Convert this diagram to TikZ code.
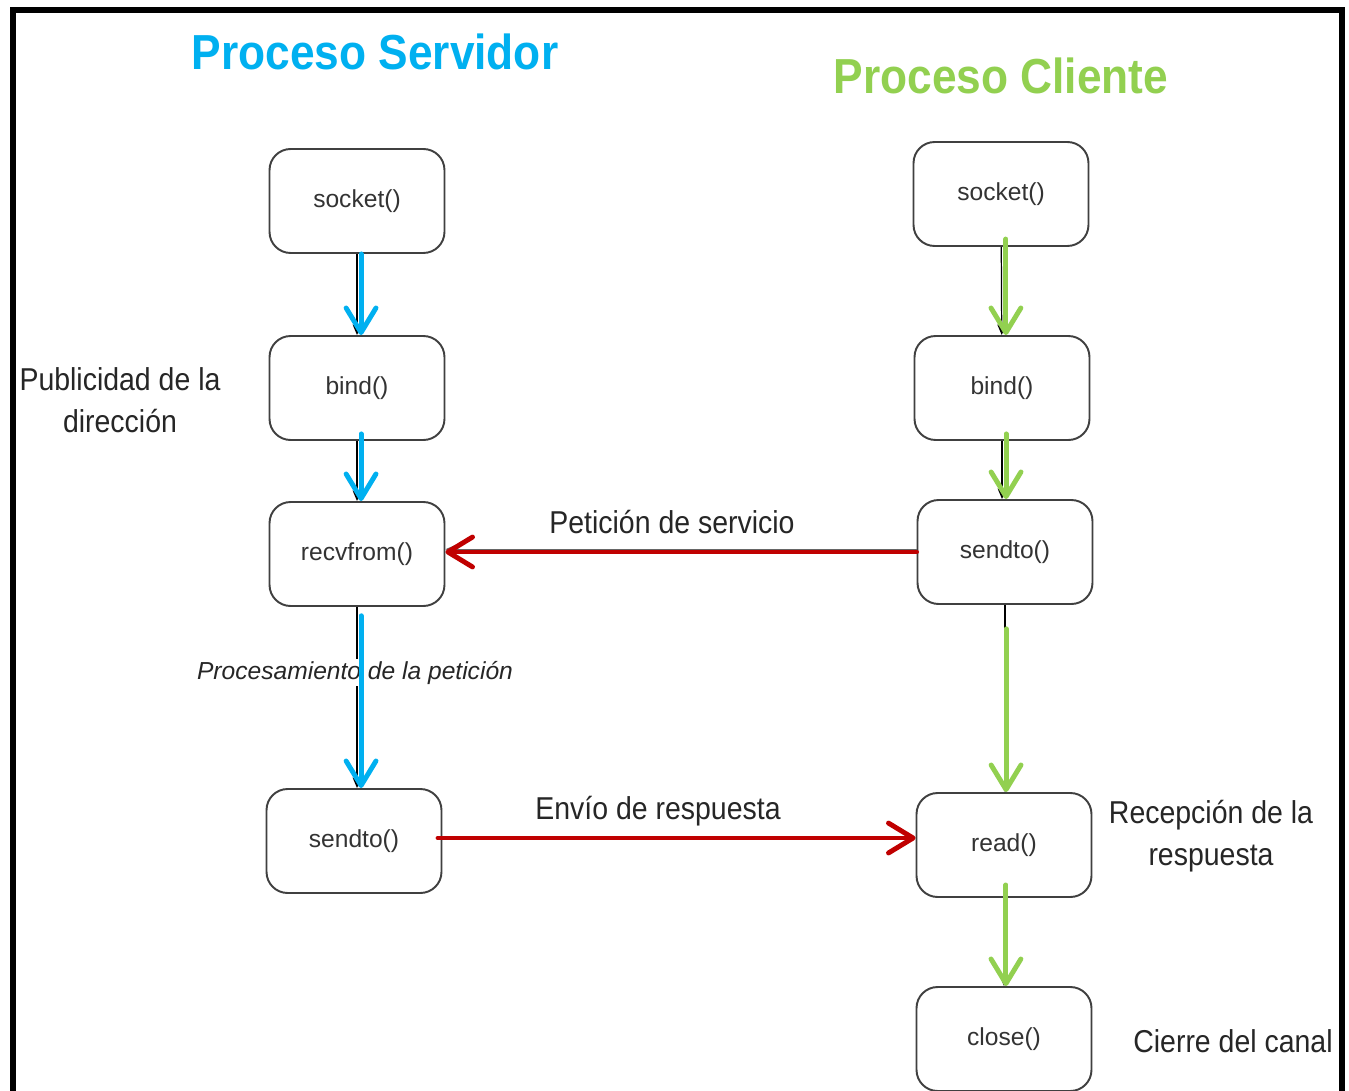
\documentclass[tikz,border=0pt]{standalone}
\usepackage{fontspec}
\setmainfont{Liberation Sans}
\newfontfamily\narrowsans[FakeStretch=0.9]{Liberation Sans}
\newfontfamily\titlesans[FakeStretch=0.9]{Liberation Sans}
\usetikzlibrary{arrows.meta}
\definecolor{srvblue}{HTML}{00B0F0}
\definecolor{cligreen}{HTML}{92D050}
\definecolor{msgred}{HTML}{C00000}

\begin{document}
\begin{tikzpicture}[x=0.02cm, y=-0.02cm,
    call/.style={draw=black!75, line width=1.1pt, rounded corners=12pt,
      minimum width=3.5cm, minimum height=2.08cm, fill=white,
      text=black!80, font=\fontsize{14}{16}\selectfont},
    title/.style={anchor=base, font=\titlesans\bfseries\fontsize{28}{32}\selectfont},
    note/.style={text=black!85, align=center, font=\narrowsans\fontsize{18}{24}\selectfont},
    link/.style={draw=black, line width=0.7pt, -{Stealth[length=6pt,width=5pt]}},
    flow/.style={line width=2.8pt, line cap=round,
      -{Straight Barb[length=14pt,width=17pt,round]}}]
    \useasboundingbox (0,0) rectangle (1349,1091);
    \fill [white] (0,0) rectangle (1349,1091);
    % marco
    \draw [line width=6*0.02cm, miter limit=10] (13,1095) -- (13,10) -- (1342,10) -- (1342,1095);

    % titulos
    \node [title, text=srvblue] (tserv) at (375,70) {Proceso Servidor};
    \node [title, text=cligreen] (tcli) at (1001,94) {Proceso Cliente};

    % proceso servidor
    \node [call] (s1) at (357,201) {socket()};
    \node [call] (s2) at (357,388) {bind()};
    \node [call] (s3) at (357,554) {recvfrom()};
    \node [call] (s4) at (354,841) {sendto()};

    % proceso cliente
    \node [call] (c1) at (1001,194) {socket()};
    \node [call] (c2) at (1002,388) {bind()};
    \node [call] (c3) at (1005,552) {sendto()};
    \node [call] (c4) at (1004,845) {read()};
    \node [call] (c5) at (1004,1039) {close()};

    % conectores finos
    \draw [link] (s1) -- (s2);
    \draw [link] (s2) -- (s3);
    \draw [link] (s3.south) -- (s3.south |- s4.north);
    \draw [link] (c1) -- (c2);
    \draw [link] (c2.south) -- (c2.south |- c3.north);
    \draw [link] (c3.south) -- (c3.south |- c4.north);
    \draw [link] (c4) -- (c5);
    \draw [link, draw=black!60] ([yshift=1.6pt]c3.west) -- ([yshift=1.6pt]c3.west -| s3.east);
    \draw [link, draw=black!60] ([yshift=2.2pt]s4.east) -- ([yshift=2.2pt]s4.east -| c4.west);

    % etiquetas
    \node [note] (pub) at (120,400) {Publicidad de la\\dirección};
    \node [note, anchor=base] (pet) at (672,533) {Petición de servicio};
    \node [note, anchor=base] (env) at (658,819) {Envío de respuesta};
    \node [note] (rec) at (1211,836) {Recepción de la\\respuesta};
    \node [note, anchor=base] (cie) at (1233,1052) {Cierre del canal};
    \node [anchor=base, fill=white, inner sep=1pt, text=black!85,
      font=\itshape\fontsize{14}{16}\selectfont] (proc) at (355,679)
      {Procesamiento de la petición};

    % flechas de colores
    \draw [flow, srvblue] ([xshift=2.3pt]s1.south) -- ([xshift=2.3pt]s2.north);
    \draw [flow, srvblue, shorten <=-4pt] ([xshift=2.3pt]s2.south) -- ([xshift=2.3pt]s3.north);
    \draw [flow, srvblue, shorten <=5pt] ([xshift=2.3pt]s3.south) -- ([xshift=2.3pt]s3.south |- s4.north);
    \draw [flow, cligreen, shorten <=-4.5pt] ([xshift=2.8pt]c1.south) -- ([xshift=2.8pt]c1.south |- c2.north);
    \draw [flow, cligreen, shorten <=-4pt] ([xshift=2.3pt]c2.south) -- ([xshift=2.3pt]c2.south |- c3.north);
    \draw [flow, cligreen, shorten <=13.6pt] ([xshift=0.6pt]c3.south) -- ([xshift=0.6pt]c3.south |- c4.north);
    \draw [flow, cligreen, shorten <=-7.4pt] ([xshift=1.1pt]c4.south) -- ([xshift=1.1pt]c4.south |- c5.north);
    \draw [flow, msgred] (c3.west) -- (c3.west -| s3.east);
    \draw [flow, msgred, shorten <=-2.5pt] ([yshift=1.7pt]s4.east) -- ([yshift=1.7pt]s4.east -| c4.west);
\end{tikzpicture}
\end{document}
